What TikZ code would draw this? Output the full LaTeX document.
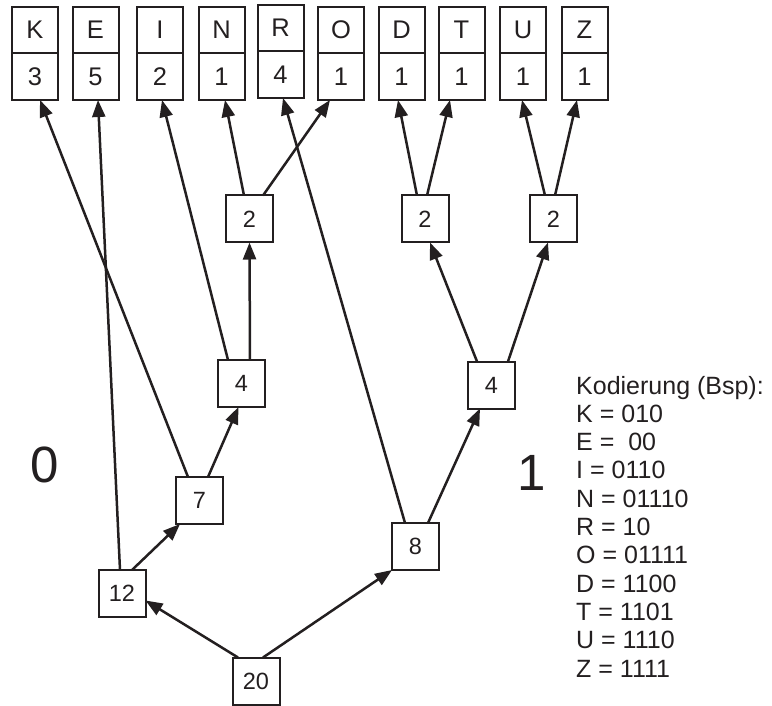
\documentclass[tikz,border=0pt]{standalone}
\usepackage{fontspec}
\setmainfont{Liberation Sans}
\usetikzlibrary{arrows.meta,positioning}
\definecolor{ink}{HTML}{231F20}
\tikzset{sym/.style={draw=ink,line width=2pt,minimum width=46pt,minimum height=46pt,inner sep=0pt,outer sep=0pt,font=\fontsize{25.5}{30}\selectfont,text=ink}, cnt/.style={sym,minimum height=47pt},knot/.style={sym,minimum width=47pt,minimum height=47pt,font=\fontsize{23.5}{28}\selectfont},arr/.style={-{Triangle[length=17pt,width=13pt]},line width=2.5pt,draw=ink},big/.style={font=\fontsize{51}{60}\selectfont,text=ink},code/.style={anchor=base west,inner sep=0pt,font=\fontsize{25}{28}\selectfont,text=ink}}

\begin{document}
\begin{tikzpicture}[x=1pt,y=-1pt]
\useasboundingbox (0,0) rectangle (772,706);
\foreach \l/\n/\x/\y in {K/3/35/30,E/5/95.5/30,I/2/160/30,N/1/221.5/30,R/4/280.5/28,O/1/341/30,D/1/401.5/30,T/1/461.5/30,U/1/523/30,Z/1/584.5/30}{
  \node[sym] (s\l) at (\x,\y) {\l};
  \node[cnt,below=0pt of s\l] (f\l) {\n};
}
\node[knot] (n20) at (256,681) {20};
\node[knot] (n12) at (122,593.5) {12};
\node[knot] (n7) at (199.5,500.5) {7};
\node[knot] (n8) at (415.5,546.5) {8};
\node[knot] (n4a) at (241.5,383.5) {4};
\node[knot] (n2a) at (249.5,219) {2};
\node[knot] (n4b) at (491.5,385) {4};
\node[knot] (n2b) at (425,219) {2};
\node[knot] (n2c) at (553.5,219) {2};
\node[big] (zero) at (45,465) {0};
\node[big] (one) at (532,473) {1};
\node[code] (head) at (576,394) {Kodierung (Bsp):};
\foreach \c [count=\i] in {K = 010,E = \ 00,I = 0110,N = 01110,R = 10,O = 01111,D = 1100,T = 1101,U = 1110,Z = 1111}
  \node[code] (c\i) at (576,394+28.3*\i) {\c};
\draw[arr] ([xshift=-18pt]n20.north)--([yshift=-7pt]n12.east);
\draw[arr] ([xshift=7pt]n20.north)--(n8.south west);
\draw[arr] ([xshift=10pt]n12.north)--([xshift=4pt]n7.south west);
\draw[arr] ([xshift=-2pt]n12.north)--([xshift=2.5pt]fE.south);
\draw[arr] ([xshift=-11.5pt]n7.north)--([xshift=5pt]fK.south);
\draw[arr] ([xshift=8.5pt]n7.north)--([xshift=-3pt]n4a.south);
\draw[arr] ([xshift=-13.5pt]n4a.north)--([xshift=2pt]fI.south);
\draw[arr] ([xshift=8.5pt]n4a.north)--(n2a.south);
\draw[arr] ([xshift=-5.5pt]n2a.north)--([xshift=3.5pt]fN.south);
\draw[arr] ([xshift=13.5pt]n2a.north)--([xshift=-11pt]fO.south);
\draw[arr] ([xshift=-10.5pt]n8.north)--([xshift=2.5pt]fR.south);
\draw[arr] ([xshift=12.5pt]n8.north)--([xshift=-11.5pt]n4b.south);
\draw[arr] ([xshift=-14.5pt]n4b.north)--([xshift=5pt]n2b.south);
\draw[arr] ([xshift=16.5pt]n4b.north)--([xshift=-5.5pt]n2c.south);
\draw[arr] ([xshift=-8pt]n2b.north)--([xshift=-3.5pt]fD.south);
\draw[arr] ([xshift=2pt]n2b.north)--([xshift=-11.5pt]fT.south);
\draw[arr] ([xshift=-8.5pt]n2c.north)--([xshift=-1pt]fU.south);
\draw[arr] ([xshift=1.5pt]n2c.north)--([xshift=-7.5pt]fZ.south);
\end{tikzpicture}
\end{document}
